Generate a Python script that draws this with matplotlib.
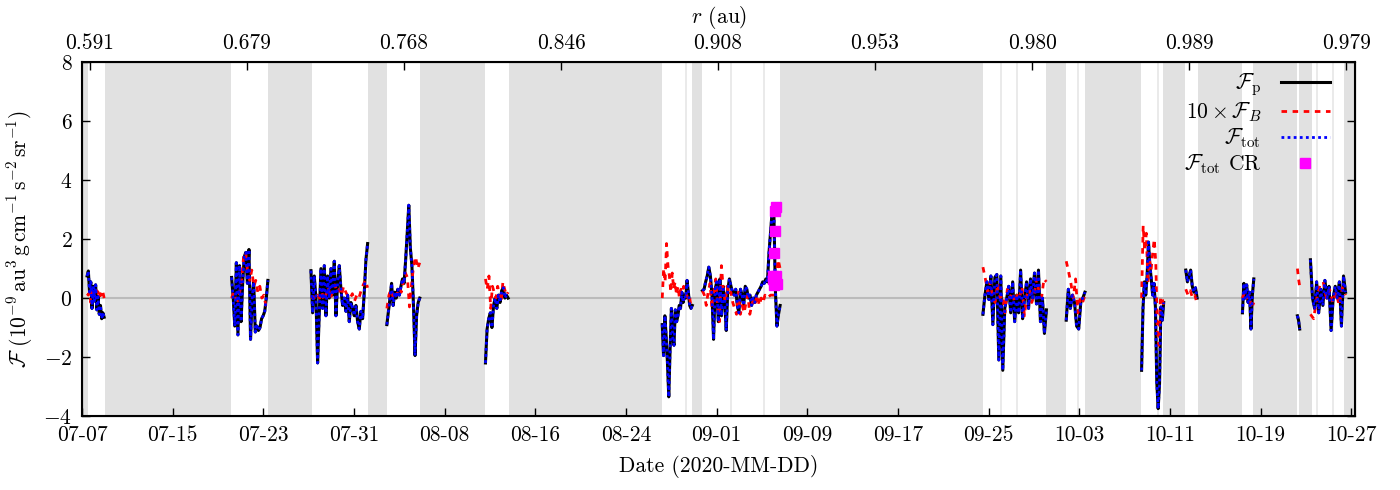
import datetime as dt
import numpy as np
import matplotlib
matplotlib.use("Agg")
import matplotlib.pyplot as plt
import matplotlib.dates as mdates

plt.rcParams["font.family"] = "serif"
plt.rcParams["font.serif"] = ["cmr10"]
plt.rcParams["mathtext.fontset"] = "cm"
plt.rcParams["axes.formatter.use_mathtext"] = True

# days since 2020-07-07 00:00
T0 = dt.datetime(2020, 7, 7)

# data gaps (shaded) : (start, end) in days
gaps = [(0.0, 0.53), (2.03, 13.15), (16.42, 20.30), (25.24, 26.92), (29.83, 35.57),
        (37.69, 51.19), (53.84, 54.72), (61.61, 79.52), (85.08, 86.85), (88.5, 93.47),
        (95.4, 97.35), (98.5, 102.4), (103.35, 107.24), (107.4, 108.5), (111.4, 112.4)]
# very short gaps (thin lines)
short_gaps = [53.3, 57.3, 60.2, 81.1, 82.5, 87.9, 94.97, 109.0, 110.4]

# segments: (start day, end day)
seg_a = (0.45, 1.95)
fp_a = [0.75, 0.92, 0.2, 0.55, -0.35, 0.4, -0.1, 0.45, -0.4, 0.05, -0.55, -0.25, -0.7, -0.5, -0.65]
fb_a = [0.15, 0.1, 0.2, -0.15, 0.25, 0.05, 0.2, 0.1, 0.25, 0.2, 0.0, 0.15, 0.05, 0.2, 0.0]

seg_b = (13.2, 16.4)
fp_b = [0.7, 0.0, -0.95, 1.2, -1.25, 1.1, -0.8, 0.5, 1.4, 1.55, 0.5, 1.65, -1.4, 0.0, 0.55,
        -1.15, -0.95, -1.1, -1.0, -0.7, -0.6, -0.45, 0.0, 0.6]
fb_b = [0.0, 0.2, 0.0, -0.1, 0.2, 0.65, 1.45, 1.55, 0.85, 0.6, 0.95, 0.4, 0.6, 0.2, 0.4,
        0.0, 0.1, -0.25, -0.35]

seg_c = (20.2, 25.2)
fp_c = [0.93, -0.5, 0.75, 0.0, -2.2, -0.5, 1.0, -0.35, 1.1, -0.6, 0.75, 0.0, 1.0, 0.1, 1.25,
        -0.6, 0.5, 1.1, 0.3, -0.25, 0.0, -0.45, 0.1, -0.8, -0.15, -0.35, -0.6, -0.25, -0.8,
        -1.05, -0.45, -0.7, 0.2, 1.3, 1.85]
fb_c = [0.0, 0.05, -0.05, 0.1, 0.0, 0.2, -0.1, 0.15, 0.35, 0.0, 0.25, 0.45, 0.2, 0.3, 0.1,
        0.4, 0.2, 0.05, 0.0, 0.15, -0.1, 0.1, 0.0, 0.25, 0.45, 0.6, 0.35]

seg_d = (26.9, 29.8)
fp_d = [-0.9, -0.45, 0.0, 0.5, -0.25, 0.2, 0.0, 0.3, 0.1, 0.4, 0.65, 0.5, 1.3, 2.2, 3.15,
        1.7, 1.1, -0.25, -1.95, -0.6, -0.15, 0.0]
fb_d = [-0.35, 0.1, 0.3, 0.05, 0.2, 0.1, 0.35, 0.2, 0.55, 0.85, 0.7, -0.3, 0.45, 1.1, 1.4,
        1.0, 1.2]

seg_e = (35.6, 37.6)
fp_e = [-2.2, -1.05, -0.7, -0.5, -1.0, -0.25, 0.0, -0.35, 0.1, -0.15, 0.25, 0.35, 0.0, 0.1, 0.0]
fb_e = [0.65, 0.3, 0.75, -0.35, 0.4, 0.2, 0.0, 0.4, 0.1, -0.15, 0.55, 0.3, 0.1, 0.2]

seg_f = (51.2, 53.85)
fp_f = [-0.9, -1.95, -0.6, -1.3, -2.2, -3.35, -1.75, -0.35, -1.3, -1.6, -0.4, -0.8, -0.6,
        -0.25, -0.35, 0.2, -0.15, 0.1, 0.0, 0.6, 0.2, -0.25, -0.35, -0.25]
fb_f = [0.0, 1.0, 0.55, 1.85, 1.1, 0.75, 0.2, 0.85, 0.3, 0.55, 0.1, 0.4, 0.0, 0.3, 0.2, 0.4,
        0.2, 0.1, 0.0, 0.1, -0.25, -0.15]

seg_g = (54.75, 61.6)
fp_g = [0.25, 0.3, 0.55, 0.75, 1.05, 0.75, 0.1, -1.4, 0.3, 0.55, -0.8, 0.65, -0.6, 0.4, -0.05,
        -1.1, 0.3, 0.65, 0.4, 0.2, 0.1, 0.3, -0.25, -0.5, 0.3, 0.1, -0.25, 0.4, 0.3, 0.0, 0.1,
        -0.25, 0.0, -0.15, 0.1, 0.2, 0.3, 0.4, 0.55, 0.5, 0.65, 0.55, 1.55, 2.25, 2.95, 3.1,
        0.3, -0.95, -0.55, -0.25]
fb_g = [0.25, 0.1, -0.25, 0.2, 0.5, -0.35, 0.2, 0.65, -0.25, -0.8, 1.1, 0.3, -0.15, 0.4, 0.1,
        0.2, -0.15, -0.35, -0.55, 0.2, -0.55, -0.25, -0.5, -0.15, 0.1, -0.55, -0.25, 0.0,
        -0.15, 0.1, -0.25, 0.0, -0.15, 0.1, 0.0, 0.05, 0.1, 0.1, 0.1, 0.85, 1.3, 1.0]

seg_h = (79.5, 85.1)
fp_h = [-0.55, 0.1, 0.55, -0.05, 0.75, -0.9, 0.7, 0.8, -2.1, 0.75, -2.45, -0.35, 0.0, 0.4,
        -0.5, 0.55, -0.8, 0.1, -0.5, 0.95, -0.7, 0.0, 0.55, -0.35, 0.65, 0.0, 0.85, -0.2,
        0.95, -0.8, 0.0, -1.2, -0.4]
fb_h = [1.05, 0.65, 0.2, 0.55, 0.0, -0.15, 0.5, 0.0, 0.1, -0.5, 0.3, 0.0, 0.2, -0.15, 0.1,
        0.0, 0.4, -0.6, 0.1, 0.3, -0.15, 0.1, 0.65, 0.2, 0.0, 0.65, 0.55]

seg_i = (86.85, 88.5)
fp_i = [-0.75, 0.3, -0.35, 0.1, -0.15, -0.95, -1.05, -0.15, 0.0, 0.2]
fb_i = [1.25, 0.9, 0.5, 0.0, 0.65, -0.5, 0.0, -0.15, 0.1]

seg_j = (93.5, 95.45)
fp_j = [-2.45, -0.35, 0.55, 0.1, 0.75, 1.9, 1.1, 0.65, 0.1, 0.5, -0.3, -2.85, -3.75, -2.9,
        -0.3, -0.75, -0.15]
fb_j = [0.0, 2.45, 1.6, 2.2, 0.5, 1.3, 0.95, 1.5, 2.0, 1.2, -1.15, -1.6, 0.05, 0.0, -0.25]

seg_k = (97.4, 98.4)
fp_k = [0.95, 0.55, 0.75, 0.95, 0.4, 0.2, 0.35, 0.0]
fb_k = [0.3, 0.1, 0.25, 0.0, 0.1, -0.2]

seg_l = (102.4, 103.4)
fp_l = [-0.5, 0.5, 0.0, 0.45, -0.15, 0.2, -1.05, 0.1, 0.65]
fb_l = [0.0, 0.2, 0.0, 0.1, -0.35, -0.15]

seg_m1 = (107.25, 107.45)
fp_m1 = [-0.6, -0.75, -1.05]
fb_m1 = [1.0, 0.65, 0.4]

seg_m2 = (108.4, 111.5)
fp_m2 = [1.3, 0.0, -0.35, 0.55, -0.5, 0.3, -0.25, 0.6, 0.0, 0.4, -1.1, 0.0, 0.4, 0.0, 0.55,
         -0.95, 0.75, 0.2]
fb_m2 = [-0.55, -0.7, 0.0, 0.45, 0.55, 0.0, 0.3, -0.15, 0.2, -0.25, 0.35, 0.1]

segments = [(seg_a, fp_a, fb_a), (seg_b, fp_b, fb_b), (seg_c, fp_c, fb_c), (seg_d, fp_d, fb_d),
            (seg_e, fp_e, fb_e), (seg_f, fp_f, fb_f), (seg_g, fp_g, fb_g), (seg_h, fp_h, fb_h),
            (seg_i, fp_i, fb_i), (seg_j, fp_j, fb_j), (seg_k, fp_k, fb_k), (seg_l, fp_l, fb_l),
            (seg_m1, fp_m1, fb_m1), (seg_m2, fp_m2, fb_m2)]

# corotating (CR) points
cr_days = [61.0, 61.0, 61.07, 61.1, 61.14, 61.16, 61.2, 61.25, 61.37]
cr_vals = [0.75, 0.64, 0.44, 1.53, 2.27, 2.95, 3.08, 0.75, 0.47]

# heliocentric distance labels on top axis
r_days = [0.7, 14.56, 28.41, 42.27, 56.12, 69.98, 83.84, 97.69, 111.55]
r_labels = ["0.591", "0.679", "0.768", "0.846", "0.908", "0.953", "0.980", "0.989", "0.979"]


def to_num(days):
    return mdates.date2num(T0) + np.asarray(days, dtype=float)


fig = plt.figure(figsize=(14, 4.9), dpi=100)
ax = fig.add_axes([0.0586, 0.151, 0.9094, 0.722])

for g0, g1 in gaps:
    ax.axvspan(to_num(g0), to_num(g1), color="#e1e1e1", lw=0, zorder=0)
for g in short_gaps:
    ax.axvline(to_num(g), color="#e6e6e6", lw=1.2, zorder=0)
ax.axhline(0, color="#bbbbbb", lw=1.5, zorder=1)

first = True
for (t0, t1), fp, fb in segments:
    tp = to_num(np.linspace(t0, t1, len(fp)))
    tb = to_num(np.linspace(t0, t1, len(fb)))
    ftot = fp  # F_tot lies on top of F_p at this scale
    ax.plot(tp, fp, color="black", lw=2.2, zorder=2,
            label=r"$\mathcal{F}_\mathrm{p}$" if first else None)
    ax.plot(tb, fb, color="red", lw=2.0, ls=(0, (2, 2)), zorder=3,
            label=r"$10\times\mathcal{F}_B$" if first else None)
    ax.plot(tp, ftot, color="blue", lw=2.0, ls=(0, (1, 1.2)), zorder=4,
            label=r"$\mathcal{F}_\mathrm{tot}$" if first else None)
    first = False

ax.plot(to_num(cr_days), cr_vals, ls="none", marker="s", ms=6.5, color="magenta",
        zorder=5, label=r"$\mathcal{F}_\mathrm{tot}$ CR")

ax.set_xlim(to_num(0), to_num(112.35))
ax.set_ylim(-4, 8)
ax.set_yticks(np.arange(-4, 9, 2))
date_ticks = to_num(np.arange(0, 113, 8))
ax.set_xticks(date_ticks)
ax.xaxis.set_major_formatter(mdates.DateFormatter("%m-%d"))
ax.tick_params(axis="both", direction="in", labelsize=15.5, length=6, width=1, pad=7)
ax.tick_params(axis="y", right=True)
ax.tick_params(axis="x", top=False)
for s in ax.spines.values():
    s.set_linewidth(1.5)

ax.set_xlabel("Date (2020-MM-DD)", fontsize=15.5, labelpad=7)
ax.set_ylabel(r"$\mathcal{F}\ (10^{-9}\,\mathrm{au}^3\,\mathrm{g\,cm}^{-1}\,\mathrm{s}^{-2}\,\mathrm{sr}^{-1})$",
              fontsize=15.5, labelpad=6)

ax2 = ax.twiny()
ax2.set_xlim(ax.get_xlim())
ax2.set_xticks(to_num(r_days))
ax2.set_xticklabels(r_labels)
ax2.tick_params(axis="x", direction="in", labelsize=15.5, length=6, width=1, pad=7)
ax2.set_xlabel(r"$r$ (au)", fontsize=15.5, labelpad=7)

leg = ax.legend(loc="upper right", bbox_to_anchor=(0.987, 1.0), frameon=False,
                markerfirst=False, fontsize=15.5, handlelength=2.3, labelspacing=0.12,
                borderaxespad=0.0, handletextpad=0.9)
for t in leg.get_texts():
    t.set_ha("right")

fig.savefig("out.png", dpi=100)
